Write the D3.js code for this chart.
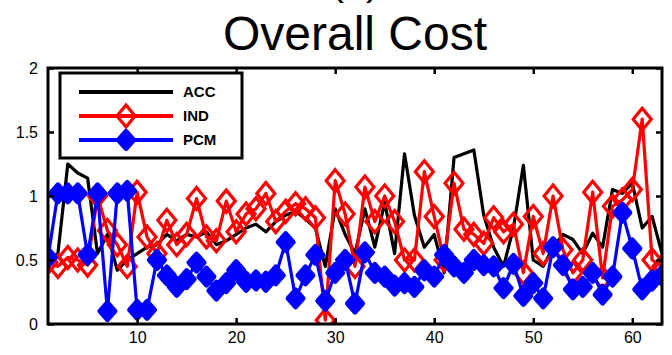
<!DOCTYPE html>
<html>
<head>
<meta charset="utf-8">
<script src="https://cdn.jsdelivr.net/npm/d3@7"></script>
<style>
  body { margin: 0; background: #fff; }
  svg { display: block; }
  text { font-family: "Liberation Sans", Arial, sans-serif; }
</style>
</head>
<body>
<figure id="chart" style="margin:0"></figure>
<script>
// test index 1..63
const runs = d3.range(1, 64);

const accCost = [
  0.50, 0.55, 1.25, 1.18, 1.14, 0.55, 0.70, 0.42, 0.50, 0.55,
  0.60, 0.62, 0.70, 0.65, 0.70, 0.68, 0.72, 0.62, 0.65, 0.70,
  0.75, 0.78, 0.72, 0.80, 0.85, 0.88, 0.82, 0.75, 0.45, 0.90,
  0.70, 0.55, 0.90, 0.60, 0.95, 0.55, 1.33, 0.85, 0.60, 0.70,
  0.40, 1.30, 1.33, 1.36, 0.85, 0.60, 0.45, 0.75, 1.24, 0.50,
  0.45, 0.60, 0.70, 0.66, 0.55, 0.71, 0.60, 1.05, 1.02, 1.10,
  0.75, 0.84, 0.55
];

const indCost = [
  0.48, 0.45, 0.52, 0.50, 0.46, 1.00, 0.73, 0.62, 0.45, 1.03,
  0.68, 0.55, 0.81, 0.62, 0.70, 0.98, 0.68, 0.65, 0.96, 0.72,
  0.86, 0.90, 1.02, 0.80, 0.88, 0.94, 0.90, 0.83, 0.03, 1.12,
  0.86, 0.45, 1.07, 0.80, 1.00, 0.80, 0.50, 0.50, 1.19, 0.84,
  0.50, 1.10, 0.74, 0.70, 0.63, 0.83, 0.72, 0.78, 0.40, 0.84,
  0.55, 1.00, 0.58, 0.40, 0.50, 1.03, 0.36, 0.92, 0.97, 1.05,
  1.60, 0.50, 0.45
];

const pcmCost = [
  0.52, 1.02, 1.02, 1.02, 0.54, 1.02, 0.10, 1.02, 1.04, 0.11,
  0.11, 0.50, 0.38, 0.29, 0.35, 0.48, 0.37, 0.26, 0.32, 0.42,
  0.33, 0.34, 0.33, 0.38, 0.64, 0.20, 0.38, 0.54, 0.18, 0.40,
  0.50, 0.16, 0.56, 0.40, 0.37, 0.30, 0.32, 0.29, 0.42, 0.37,
  0.54, 0.45, 0.40, 0.50, 0.46, 0.45, 0.28, 0.47, 0.22, 0.32,
  0.20, 0.60, 0.46, 0.27, 0.29, 0.40, 0.23, 0.37, 0.87, 0.59,
  0.27, 0.34, 0.38
];

const seriesNames = ["ACC", "IND", "PCM"];
const xTicks = [10, 20, 30, 40, 50, 60];
const yTicks = [0, 0.5, 1, 1.5, 2];
const chartTitle = "Overall Cost";

const W = 672, H = 355;
const margin = { top: 68, right: 10, bottom: 31, left: 48 };

const svg = d3.select("figure#chart")
  .append("svg")
  .attr("width", W)
  .attr("height", H);

const x = d3.scaleLinear().domain([1, 63]).range([margin.left, W - margin.right]);
const y = d3.scaleLinear().domain([0, 2]).range([H - margin.bottom, margin.top]);

const colors = { ACC: "#000", IND: "#ff0000", PCM: "#0000ff" };

// title (panel label above it is cut off by the page edge, as in the source)
svg.append("text")
  .attr("x", (x.range()[0] + x.range()[1]) / 2)
  .attr("y", -5)
  .attr("text-anchor", "middle")
  .style("font-size", "40px")
  .text("(a)");
svg.append("text")
  .attr("x", (x.range()[0] + x.range()[1]) / 2)
  .attr("y", 50)
  .attr("text-anchor", "middle")
  .style("font-size", "48px")
  .text(chartTitle);

// clip the data to the axes box
svg.append("clipPath").attr("id", "plotclip")
  .append("rect")
  .attr("x", x.range()[0]).attr("y", y.range()[1])
  .attr("width", x.range()[1] - x.range()[0])
  .attr("height", y.range()[0] - y.range()[1]);

const plot = svg.append("g").attr("clip-path", "url(#plotclip)");

const line = d3.line().x((d, i) => x(runs[i])).y(d => y(d));

function diamondPath(w, h) {
  return `M0,${-h}L${w},0L0,${h}L${-w},0Z`;
}

// ACC line
plot.append("path")
  .datum(accCost)
  .attr("fill", "none")
  .attr("stroke", colors.ACC)
  .attr("stroke-width", 3.2)
  .attr("stroke-linejoin", "round")
  .attr("d", line);

// IND line + open diamonds
plot.append("path")
  .datum(indCost)
  .attr("fill", "none")
  .attr("stroke", colors.IND)
  .attr("stroke-width", 3.2)
  .attr("stroke-linejoin", "round")
  .attr("d", line);
plot.selectAll(".ind")
  .data(indCost)
  .enter()
  .append("path")
  .attr("class", "ind")
  .attr("transform", (d, i) => `translate(${x(runs[i])},${y(d)})`)
  .attr("d", diamondPath(9, 11))
  .attr("fill", "none")
  .attr("stroke", colors.IND)
  .attr("stroke-width", 3.2);

// PCM line + filled markers
plot.append("path")
  .datum(pcmCost)
  .attr("fill", "none")
  .attr("stroke", colors.PCM)
  .attr("stroke-width", 3.2)
  .attr("stroke-linejoin", "round")
  .attr("d", line);
plot.selectAll(".pcm")
  .data(pcmCost)
  .enter()
  .append("path")
  .attr("class", "pcm")
  .attr("transform", (d, i) => `translate(${x(runs[i])},${y(d)})`)
  .attr("d", diamondPath(7.5, 8.5))
  .attr("fill", colors.PCM)
  .attr("stroke", colors.PCM)
  .attr("stroke-width", 5)
  .attr("stroke-linejoin", "round");

// axes, ticks pointing inward
const axisStyle = g => {
  g.select(".domain").remove();
  g.selectAll(".tick line").attr("stroke", "#000").attr("stroke-width", 2.5);
  g.selectAll(".tick text").style("font-size", "16px").attr("fill", "#000");
};

svg.append("g")
  .attr("transform", `translate(0,${y.range()[0]})`)
  .call(d3.axisBottom(x).tickValues(xTicks).tickSizeInner(-6).tickSizeOuter(0).tickPadding(8))
  .call(axisStyle);
svg.append("g")
  .attr("transform", `translate(0,${y.range()[1]})`)
  .call(d3.axisTop(x).tickValues(xTicks).tickSizeInner(-6).tickSizeOuter(0).tickFormat(""))
  .call(axisStyle);
svg.append("g")
  .attr("transform", `translate(${x.range()[0]},0)`)
  .call(d3.axisLeft(y).tickValues(yTicks).tickSizeInner(-6).tickSizeOuter(0).tickPadding(10).tickFormat(d => d))
  .call(axisStyle);
svg.append("g")
  .attr("transform", `translate(${x.range()[1]},0)`)
  .call(d3.axisRight(y).tickValues(yTicks).tickSizeInner(-6).tickSizeOuter(0).tickFormat(""))
  .call(axisStyle);

svg.append("rect")
  .attr("x", x.range()[0]).attr("y", y.range()[1])
  .attr("width", x.range()[1] - x.range()[0])
  .attr("height", y.range()[0] - y.range()[1])
  .attr("fill", "none")
  .attr("stroke", "#000")
  .attr("stroke-width", 3);

// legend
const legend = svg.append("g").attr("transform", "translate(60,73)");
legend.append("rect")
  .attr("width", 182).attr("height", 85)
  .attr("fill", "#fff")
  .attr("stroke", "#000")
  .attr("stroke-width", 3);

seriesNames.forEach((name, i) => {
  const ly = 19 + i * 24;
  const row = legend.append("g").attr("transform", `translate(0,${ly})`);
  row.append("line")
    .attr("x1", 19).attr("x2", 113)
    .attr("stroke", colors[name]).attr("stroke-width", 4);
  if (name === "IND") {
    row.append("path").attr("transform", "translate(66,0)")
      .attr("d", diamondPath(9, 11))
      .attr("fill", "none").attr("stroke", colors.IND).attr("stroke-width", 3.2);
  } else if (name === "PCM") {
    row.append("path").attr("transform", "translate(66,0)")
      .attr("d", diamondPath(7.5, 8.5))
      .attr("fill", colors.PCM).attr("stroke", colors.PCM)
      .attr("stroke-width", 5).attr("stroke-linejoin", "round");
  }
  row.append("text")
    .attr("x", 123).attr("y", 5)
    .style("font-size", "15px")
    .style("font-weight", "bold")
    .text(name);
});
</script>
</body>
</html>
